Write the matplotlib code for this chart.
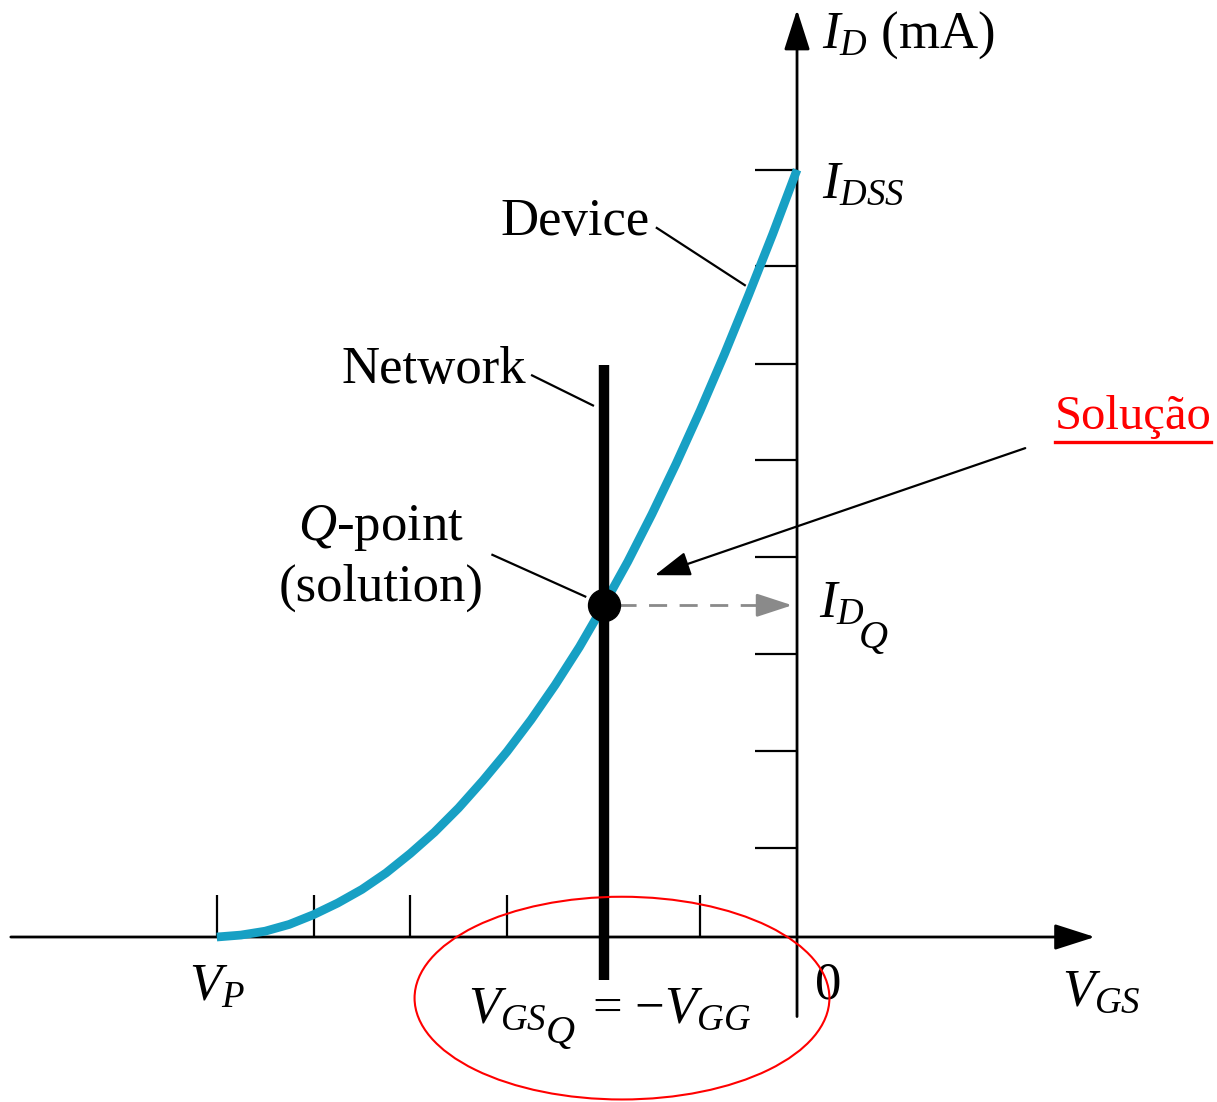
import matplotlib
matplotlib.use('Agg')
import matplotlib.pyplot as plt
from matplotlib.patches import Ellipse

plt.rcParams['font.family'] = ['Liberation Serif', 'DejaVu Serif']
plt.rcParams['mathtext.fontset'] = 'custom'
plt.rcParams['mathtext.rm'] = 'Liberation Serif'
plt.rcParams['mathtext.it'] = 'Liberation Serif:italic'

# device transfer curve (V_GS and I_D in tick units)
vgs = [-6, -5.75, -5.5, -5.25, -5, -4.75, -4.5, -4.25, -4, -3.75, -3.5, -3.25, -3,
       -2.75, -2.5, -2.25, -2, -1.75, -1.5, -1.25, -1, -0.75, -0.5, -0.25, 0]
id_ma = [0, 0.02, 0.06, 0.13, 0.23, 0.35, 0.49, 0.66, 0.86, 1.08, 1.33, 1.61, 1.91,
         2.24, 2.60, 2.99, 3.42, 3.87, 4.36, 4.88, 5.43, 6.01, 6.62, 7.25, 7.91]

x_ticks = [-6, -5, -4, -3, -2, -1]
y_ticks = [0.92, 1.92, 2.92, 3.92, 4.92, 5.91, 6.92, 7.91]

vgs_q = -2.0
id_q = 3.42
network_top = 5.9
network_bottom = -0.44

CURVE = '#17a0c4'

fig = plt.figure(figsize=(12.17, 11.02), dpi=100)
ax = fig.add_axes([0, 0, 1, 1])
ax.set_xlim(-8.242, 4.343)
ax.set_ylim(-1.701, 9.660)
ax.axis('off')

# axes with arrows
arrow = dict(arrowstyle='-|>,head_length=1.25,head_width=0.4', lw=2, color='black',
             shrinkA=0, shrinkB=0, mutation_scale=20)
ax.annotate('', xy=(3.08, 0), xytext=(-8.13, 0), arrowprops=arrow)
ax.annotate('', xy=(0, 9.56), xytext=(0, -0.82), arrowprops=arrow)

# ticks
tick_len = 0.43
for xt in x_ticks:
    ax.plot([xt, xt], [0, tick_len], color='black', lw=1.6, solid_capstyle='butt')
for yt in y_ticks:
    ax.plot([-tick_len, 0], [yt, yt], color='black', lw=1.6, solid_capstyle='butt')

# device curve
ax.plot(vgs, id_ma, color=CURVE, lw=6.3, solid_capstyle='butt', solid_joinstyle='round', zorder=3)

# network line
ax.plot([vgs_q, vgs_q], [network_bottom, network_top], color='black', lw=7.5,
        solid_capstyle='butt', zorder=4)

# Q-point
ax.plot([vgs_q], [id_q], 'o', color='black', markersize=23, zorder=5)

# dashed projection to I_D axis
ax.plot([vgs_q + 0.15, -0.35], [id_q, id_q], color='#8a8a8a', lw=2, dashes=(6.5, 4.5))
ax.annotate('', xy=(-0.05, id_q), xytext=(-0.4, id_q),
            arrowprops=dict(arrowstyle='-|>,head_length=1.1,head_width=0.36', lw=2,
                            color='#8a8a8a', shrinkA=0, shrinkB=0, mutation_scale=20))

fs = 38
ax.text(0.26, 9.30, r'$I_D$ (mA)', fontsize=fs, ha='left', va='center')
ax.text(0.26, 7.75, r'$I_{DSS}$', fontsize=fs, ha='left', va='center')
ax.text(0.23, 3.29, r'$I_D$', fontsize=fs, ha='left', va='baseline')
ax.text(0.64, 2.98, 'Q', fontsize=29, style='italic', ha='left', va='baseline')
ax.text(-6.0, -0.52, r'$V_P$', fontsize=fs, ha='center', va='center')
ax.text(0.32, -0.50, '0', fontsize=fs, ha='center', va='center')
ax.text(2.74, -0.58, r'$V_{GS}$', fontsize=fs, ha='left', va='center')
ax.text(-3.40, -0.88, r'$V_{GS}$', fontsize=fs, ha='left', va='baseline')
ax.text(-2.60, -1.09, 'Q', fontsize=29, style='italic', ha='left', va='baseline')
ax.text(-2.12, -0.88, r'= $-V_{GG}$', fontsize=fs, ha='left', va='baseline')

ax.text(-1.52, 7.37, 'Device', fontsize=fs, ha='right', va='center')
ax.plot([-1.45, -0.54], [7.31, 6.72], color='black', lw=1.6)
ax.text(-2.80, 5.85, 'Network', fontsize=fs, ha='right', va='center')
ax.plot([-2.74, -2.11], [5.79, 5.48], color='black', lw=1.6)
ax.text(-4.30, 4.22, r'$Q$-point', fontsize=fs, ha='center', va='center')
ax.text(-4.30, 3.60, '(solution)', fontsize=fs, ha='center', va='center')
ax.plot([-3.15, -2.19], [3.94, 3.51], color='black', lw=1.6)

# added annotation in red
ax.text(2.67, 5.36, 'Solução', fontsize=35, color='red', ha='left', va='center')
ax.plot([2.67, 4.28], [5.10, 5.10], color='red', lw=2.4)
ax.annotate('', xy=(-1.47, 3.73), xytext=(2.36, 5.04),
            arrowprops=dict(arrowstyle='-|>,head_length=1.1,head_width=0.38', lw=1.6,
                            color='black', shrinkA=0, shrinkB=0, mutation_scale=20))
ax.add_patch(Ellipse((-1.81, -0.63), 4.29, 2.09, fill=False, edgecolor='red', lw=1.5, zorder=6))

fig.savefig('out.png', dpi=100)
